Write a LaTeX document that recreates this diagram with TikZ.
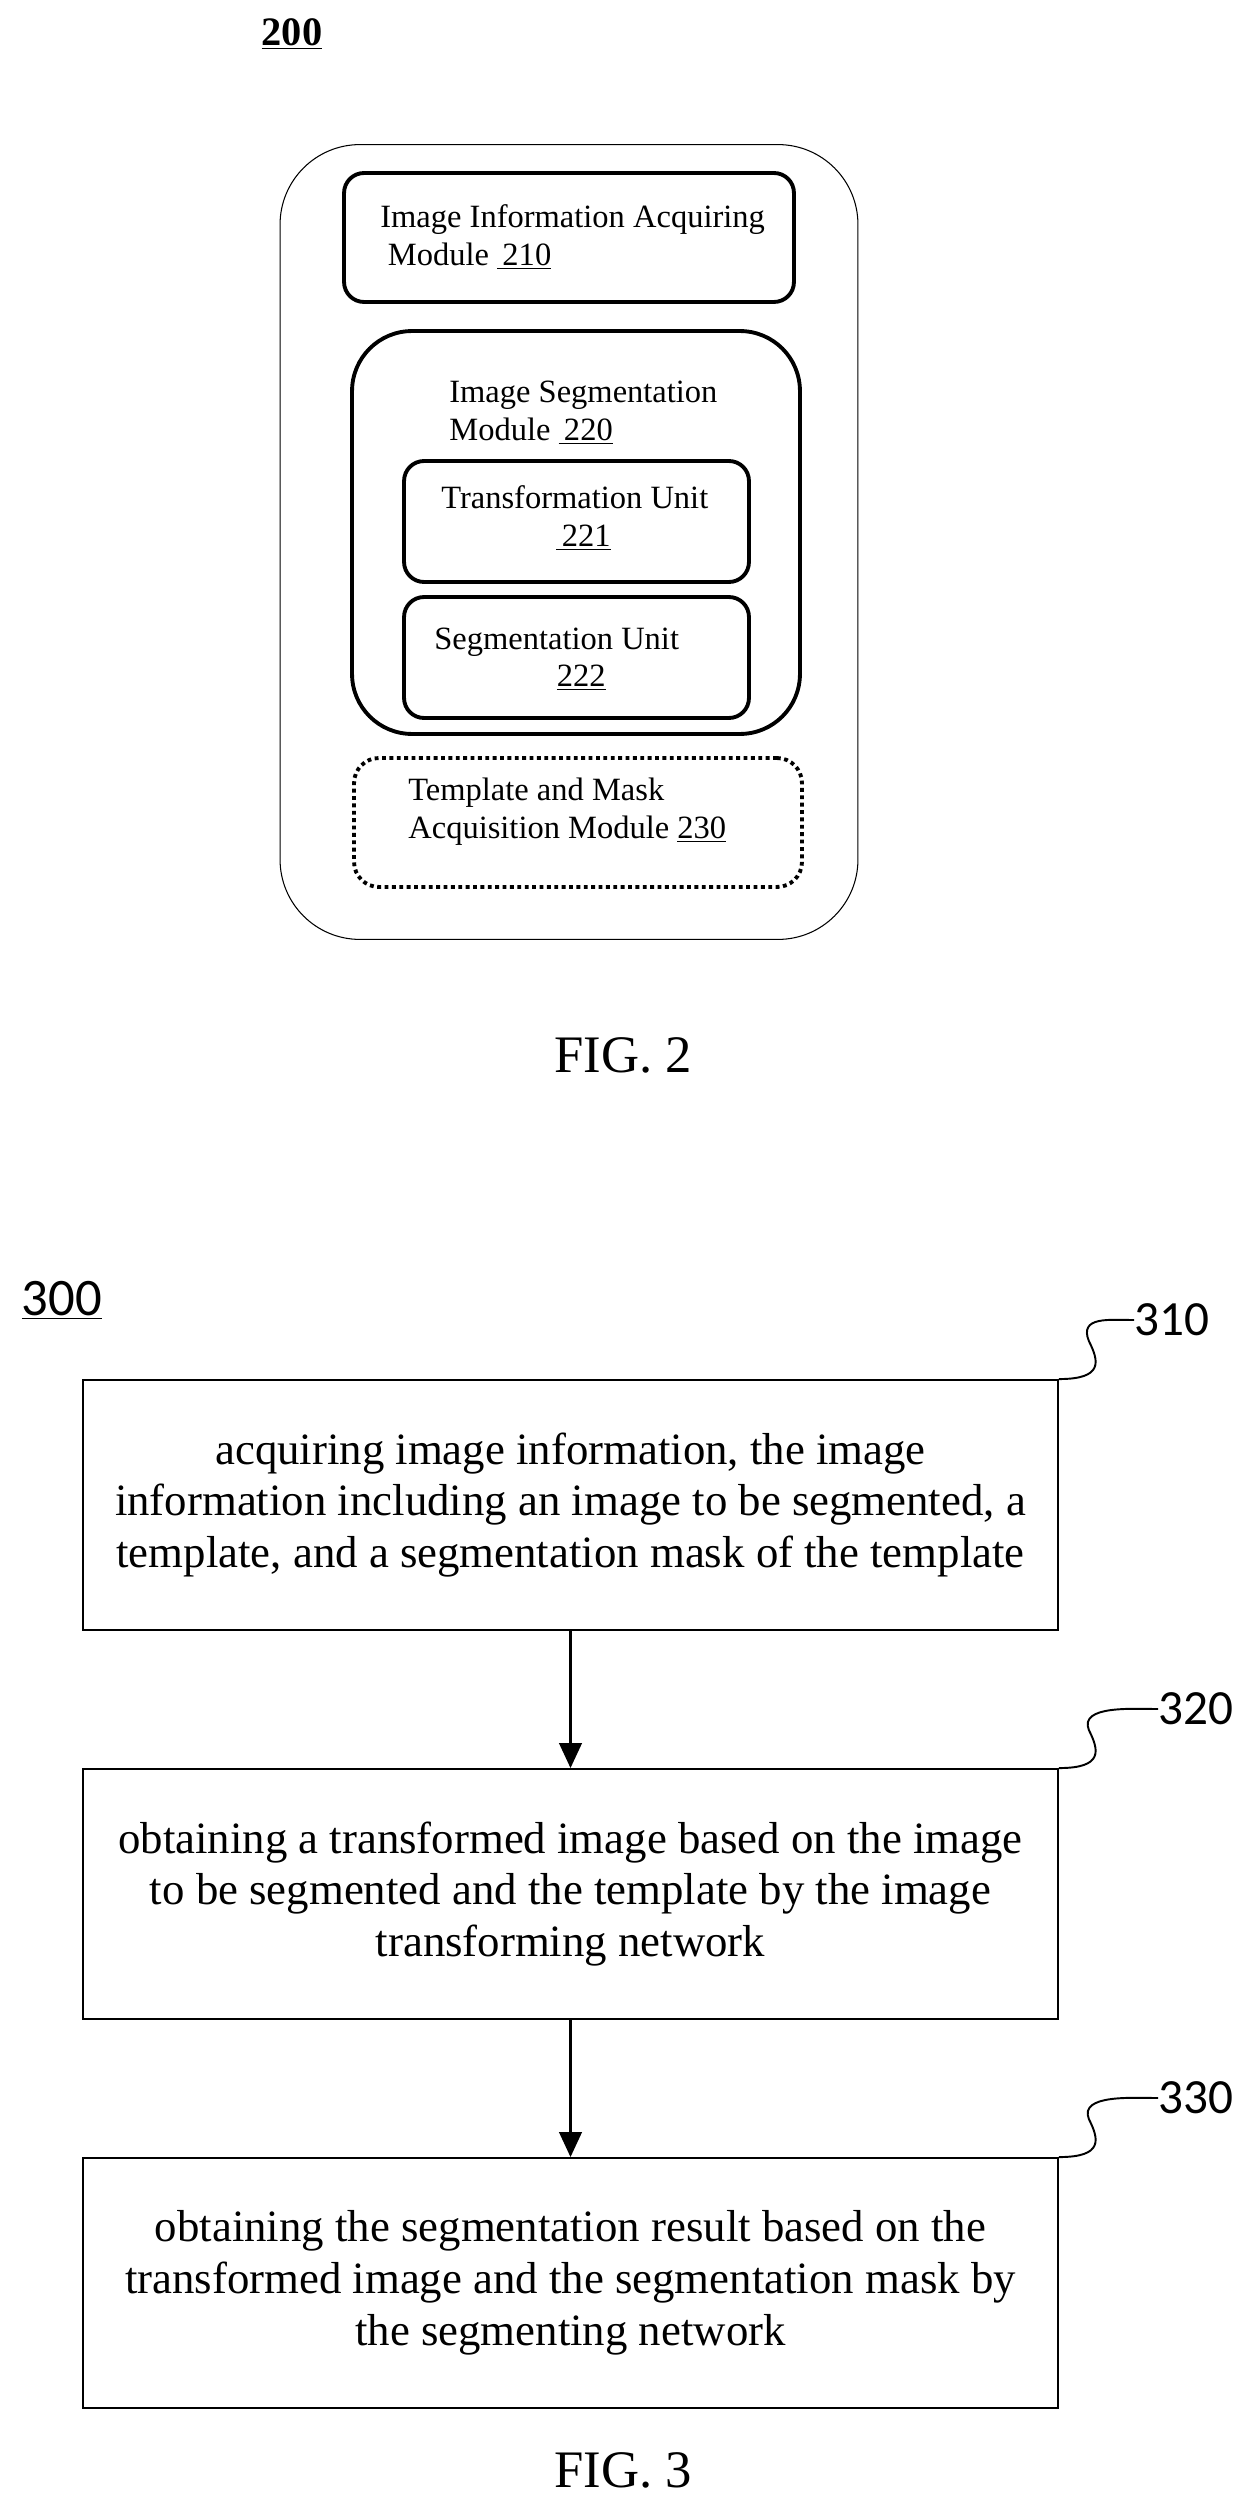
\documentclass[tikz,border=0pt]{standalone}
\usepackage{fontspec}
\setmainfont{Liberation Serif}
\newfontfamily\labelfont{Carlito}
\usetikzlibrary{arrows.meta}
\begin{document}
\begin{tikzpicture}[x=0.02cm,y=-0.02cm,
    module/.style={draw=black,line width=2.2pt,rounded corners=0.4cm,inner sep=0pt},
    stepbox/.style={draw=black,line width=1.1pt,inner sep=0pt,minimum width=19.5cm,minimum height=5cm,
      align=center,font=\fontsize{25.5}{29.5}\selectfont},
    mtext/.style={font=\fontsize{18.5}{21.5}\selectfont,inner sep=0pt},
    steplabel/.style={font=\labelfont\fontsize{28}{28}\selectfont,inner sep=0pt},
    flow/.style={line width=1.5pt,-{Triangle[width=0.45cm,length=0.5cm]}}]
    \useasboundingbox (0,0) rectangle (1233,2517);
    % FIG. 2
    \node (n200)[font=\bfseries\fontsize{23}{23}\selectfont] at (292,34) {\underline{200}};
    \node (outer)[draw=black,line width=0.6pt,rounded corners=1.6cm,minimum width=11.56cm,minimum height=15.9cm] at (569,542) {};
    \node (m210)[module,minimum width=9cm,minimum height=2.58cm] at (569,237.5) {};
    \node (m220)[module,rounded corners=1.2cm,minimum width=8.96cm,minimum height=8.06cm] at (576,532.5) {};
    \node (u221)[module,minimum width=6.9cm,minimum height=2.42cm] at (576.5,521.5) {};
    \node (u222)[module,minimum width=6.9cm,minimum height=2.42cm] at (576.5,657.5) {};
    \node (m230)[draw=black,line width=2.2pt,dotted,rounded corners=0.5cm,minimum width=8.96cm,minimum height=2.58cm] at (578,822.5) {};
    \node (t210)[mtext,anchor=west,align=left] at (380,237) {Image Information Acquiring\\ \hspace*{0.15cm}Module \underline{\,210}};
    \node (t220)[mtext,anchor=west,align=left] at (449,413) {Image Segmentation\\Module \underline{\,220}};
    \node (t221)[mtext,anchor=west,align=left] at (441,518) {Transformation Unit\\\hspace*{2.3cm}\underline{\,221}};
    \node (t222)[mtext,anchor=west,align=left] at (434,659) {Segmentation Unit\\\hspace*{2.45cm}\underline{222}};
    \node (t230)[mtext,anchor=west,align=left] at (408,812) {Template and Mask\\Acquisition Module \underline{230}};
    \node (fig2)[font=\fontsize{30}{30}\selectfont] at (623,1055) {FIG. 2};
    % FIG. 3
    \node (n300)[font=\labelfont\fontsize{30}{30}\selectfont] at (62,1300) {\underline{300}};
    \node (s310)[stepbox] at (570.5,1505) {acquiring image information, the image\\information including an image to be segmented, a\\template, and a segmentation mask of the template};
    \node (s320)[stepbox] at (570.5,1894) {obtaining a transformed image based on the image\\to be segmented and the template by the image\\transforming network};
    \node (s330)[stepbox] at (570.5,2283) {obtaining the segmentation result based on the\\transformed image and the segmentation mask by\\the segmenting network};
    \draw [flow] (s310) -- (s320);
    \draw [flow] (s320) -- (s330);
    \node (l310)[steplabel,anchor=west] at (1134,1320) {310};
    \node (l320)[steplabel,anchor=west] at (1158,1709) {320};
    \node (l330)[steplabel,anchor=west] at (1158,2098) {330};
    \draw [line width=1.1pt] (s310.north east) .. controls +(45,0) and +(10,20) .. +(30,-38) .. controls +(-10,-25) and +(-25,0) .. (l310.west);
    \draw [line width=1.1pt] (s320.north east) .. controls +(45,0) and +(10,20) .. +(30,-38) .. controls +(-10,-25) and +(-25,0) .. (l320.west);
    \draw [line width=1.1pt] (s330.north east) .. controls +(45,0) and +(10,20) .. +(30,-38) .. controls +(-10,-25) and +(-25,0) .. (l330.west);
    \node (fig3)[font=\fontsize{30}{30}\selectfont] at (623,2470) {FIG. 3};
\end{tikzpicture}
\end{document}
